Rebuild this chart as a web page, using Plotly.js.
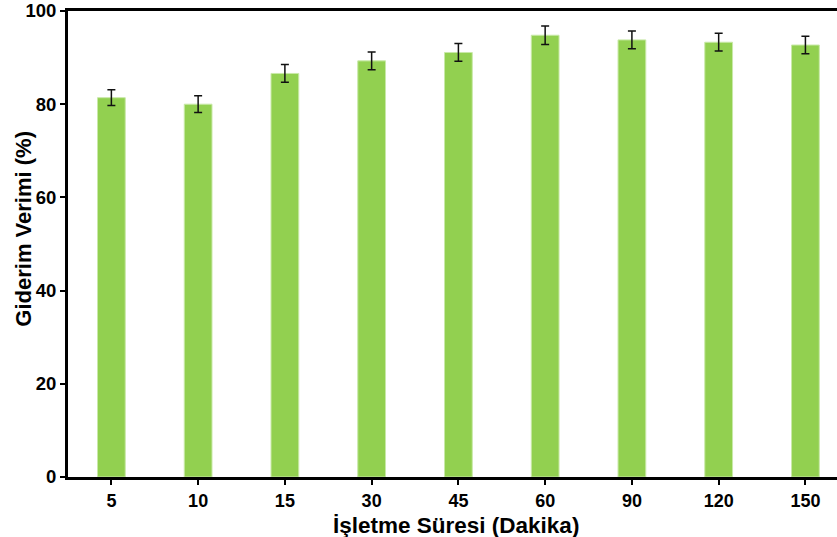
<!DOCTYPE html>
<html>
<head>
<meta charset="utf-8">
<script src="https://cdn.plot.ly/plotly-3.0.1.min.js"></script>
<style>html,body{margin:0;padding:0;background:#fff;}#chart{width:837px;height:537px;}</style>
</head>
<body>
<div id="chart"></div>
<script>
const categories = ["5", "10", "15", "30", "45", "60", "90", "120", "150"];
const values = [81.4, 80.0, 86.6, 89.3, 91.1, 94.8, 93.8, 93.3, 92.7];
const errors = [1.7, 1.8, 1.9, 1.9, 1.9, 2.0, 1.9, 1.9, 1.9];
const xTitle = "İşletme Süresi (Dakika)";
const yTitle = "Giderim Verimi (%)";

const font = "Arial, 'Liberation Sans', sans-serif";

const trace = {
  type: "bar",
  x: categories,
  y: values,
  width: 0.32,
  marker: { color: "#92D050", line: { color: "#c9e9a8", width: 1 } },
  error_y: { type: "data", array: errors, visible: true, color: "#111", thickness: 1.5, width: 4 }
};

const layout = {
  width: 837,
  height: 537,
  margin: { l: 68, r: 0, t: 11, b: 60 },
  paper_bgcolor: "#fff",
  plot_bgcolor: "#fff",
  showlegend: false,
  xaxis: {
    type: "category",
    range: [-0.5, 8.364],
    showline: true, linecolor: "#000", linewidth: 3, mirror: true,
    ticks: "outside", ticklen: 5, tickwidth: 2, tickcolor: "#000",
    showgrid: false, zeroline: false,
    tickfont: { family: font, size: 18, color: "#000", weight: "bold" }
  },
  yaxis: {
    range: [0, 100],
    tickvals: [0, 20, 40, 60, 80, 100],
    showline: true, linecolor: "#000", linewidth: 3,
    ticks: "outside", ticklen: 5, tickwidth: 2, tickcolor: "#000",
    showgrid: false, zeroline: false,
    tickfont: { family: font, size: 18.5, color: "#000", weight: "bold" }
  },
  annotations: [
    { text: "<b>" + xTitle + "</b>", xref: "paper", yref: "paper", x: 0.505, y: -0.104,
      xanchor: "center", yanchor: "middle", showarrow: false,
      font: { family: font, size: 22.5, color: "#000" } },
    { text: "<b>" + yTitle + "</b>", xref: "paper", yref: "paper", x: -0.0572, y: 0.533,
      xanchor: "center", yanchor: "middle", showarrow: false, textangle: -90,
      font: { family: font, size: 22, color: "#000" } }
  ]
};

Plotly.newPlot("chart", [trace], layout, { displayModeBar: false, staticPlot: true });
</script>
</body>
</html>
